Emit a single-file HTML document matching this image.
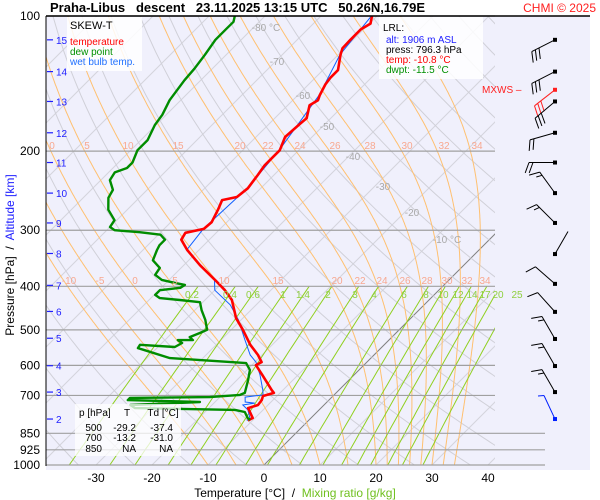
<!DOCTYPE html>
<html><head><meta charset="utf-8"><style>
html,body{margin:0;padding:0;background:#fff;}
svg{display:block;font-family:"Liberation Sans",sans-serif;}
</style></head><body>
<svg id="c" width="600" height="500" viewBox="0 0 600 500">
<defs><clipPath id="pc"><rect x="46" y="16" width="449" height="449"/></clipPath></defs>
<rect x="46" y="16" width="544" height="454" fill="#f0f0fc"/>
<g id="grid" clip-path="url(#pc)"></g>
<g id="isobars"></g>
<g id="series" clip-path="url(#pc)"></g>
<g id="barbs"></g>
<g id="labels"></g>
<line x1="46" y1="16" x2="590" y2="16" stroke="#000" stroke-width="1.5"/>
<line x1="46" y1="16" x2="46" y2="466" stroke="#000" stroke-width="1"/>
<text x="50" y="12" font-size="13" font-weight="bold" xml:space="preserve">Praha-Libus   descent   23.11.2025 13:15 UTC   50.26N,16.79E</text>
<text x="596" y="12" font-size="12" fill="#ff2020" text-anchor="end">CHMI © 2025</text>
<g>
<rect x="67" y="17" width="75" height="54" fill="#fff" opacity="0.85"/>
<text x="70" y="29" font-size="11">SKEW-T</text>
<text x="70" y="45" font-size="10" fill="#ff0000">temperature</text>
<text x="70" y="55" font-size="10" fill="#009000">dew point</text>
<text x="70" y="65" font-size="10" fill="#2070ff">wet bulb temp.</text>
</g>
<g>
<rect x="379" y="17" width="104" height="62" fill="#fff" opacity="0.85"/>
<text x="383" y="31" font-size="10">LRL:</text>
<text x="386" y="43" font-size="10" fill="#2020ff">alt: 1906 m ASL</text>
<text x="386" y="53" font-size="10">press: 796.3 hPa</text>
<text x="386" y="63" font-size="10" fill="#ff0000">temp: -10.8 °C</text>
<text x="386" y="73" font-size="10" fill="#009000">dwpt: -11.5 °C</text>
</g>
<text x="482" y="93" font-size="10" fill="#ff2020">MXWS –</text>
<g font-size="10">
<rect x="75" y="404" width="106" height="52" fill="#fff" opacity="0.75"/>
<text x="79" y="416">p [hPa]</text><text x="127" y="416" text-anchor="middle">T</text><text x="163" y="416" text-anchor="middle">Td [°C]</text>
<text x="102" y="431" text-anchor="end">500</text><text x="136" y="431" text-anchor="end">-29.2</text><text x="173" y="431" text-anchor="end">-37.4</text>
<text x="102" y="441" text-anchor="end">700</text><text x="136" y="441" text-anchor="end">-13.2</text><text x="173" y="441" text-anchor="end">-31.0</text>
<text x="102" y="452" text-anchor="end">850</text><text x="136" y="452" text-anchor="end">NA</text><text x="173" y="452" text-anchor="end">NA</text>
</g>
<text x="295" y="497" font-size="12" text-anchor="middle" xml:space="preserve"><tspan>Temperature [°C]  /  </tspan><tspan fill="#70c020">Mixing ratio [g/kg]</tspan></text>
<text transform="translate(14,255) rotate(-90)" font-size="12" text-anchor="middle" xml:space="preserve"><tspan>Pressure [hPa]  /  </tspan><tspan fill="#2020ff">Altitude [km]</tspan></text>
</svg>
<script>
var tempP=[100,104,107,113,118,122,132,137,142,150,154,158,169,174,186,199,215,226,242,253,257,270,288,298,304,315,332,359,387,408,429,471,500,540,569,590,599,630,681,691,702,717,735,747,786,796];
var tempT=[-60.9,-59.8,-60.5,-60.5,-60.4,-59.6,-57.3,-57.3,-57.0,-56.1,-55.5,-56.1,-54.3,-54.5,-54.8,-53.4,-53.4,-52.9,-52.3,-52.7,-54.8,-53.8,-52.7,-52.9,-55.5,-55.0,-52.1,-47.1,-41.8,-38.2,-35.2,-31.2,-27.9,-23.9,-20.7,-18.8,-19.3,-16.4,-12.0,-11.1,-12.5,-12.0,-11.8,-13.0,-10.4,-10.8];
var dewP=[100,103,107,113,122,131,139,154,166,175,189,199,212,218,223,232,244,254,270,285,295,300,303,307,315,324,332,350,364,377,387,393,397,403,408,418,425,429,434,452,475,500,508,519,527,527,535,546,540,549,555,578,593,614,647,691,698,706,709,717,724,735,747,754,762,786,794];
var dewT=[-85.4,-84.6,-84.6,-84.6,-83.8,-83.2,-82.9,-82.0,-80.7,-80.2,-78.8,-78.8,-77.5,-77.5,-78.9,-78.4,-76.1,-75.5,-73.4,-70.4,-70.0,-68.6,-63.8,-59.6,-57.9,-57.9,-57.5,-56.4,-53.8,-53.4,-51.3,-48.4,-46.3,-46.6,-49.8,-49.8,-48.4,-44.5,-40.5,-38.8,-36.4,-34.3,-35.0,-36.1,-35.0,-37.7,-36.4,-37.0,-43.6,-43.4,-41.8,-35.9,-21.4,-19.5,-18.0,-16.3,-16.8,-21.8,-35.9,-35.9,-22.7,-34.6,-33.2,-15.0,-12.9,-11.3,-10.5];
var wbP=[100,122,150,199,242,298,332,387,408,440,475,527,569,590,630,681,698,706,724,728,735,754,786,796];
var wbT=[-61.0,-59.7,-56.2,-53.5,-52.4,-53.0,-52.2,-41.9,-40.0,-34.6,-30.5,-25.7,-22.1,-19.8,-16.8,-13.6,-12.7,-15.5,-14.6,-12.7,-14.5,-12.7,-10.9,-11.0];
var pressTicks=[100,200,300,400,500,600,700,850,925,1000];
var tempTicks=[-30,-20,-10,0,10,20,30,40];
var altTicks=[15,14,13,12,11,10,9,8,7,6,5,4,3,2];
var altP=[113,133,155,182,212,248,289,338,398,455,522,601,688,790];
var mixRatios=[0.2,0.4,0.6,1,1.4,2,3,4,6,8,10,12,14,17,20,25];
var moistThetaW=[-10,-5,0,5,10,15,20,22,24,26,28,30,32,34];
var isoLabels=[-80,-70,-60,-50,-40,-30,-20,-10];
var barbP=[113,133,146,155,182,212,248,289,339,395,456,524,602,688,790];
var barbDir=[243,243,232,230,254,270,324,315,30,311,318,330,330,330,335];
var barbN=[3,3,3,3,2,2,1.5,1.5,0,1,1,1.5,1.5,1.5,0.5];

var NS="http://www.w3.org/2000/svg";
function yOf(p){return 465-449*Math.log(1000/p)/Math.log(10);}
function xOf(T,p){return 264+5.6*T+(465-yOf(p));}
function mk(tag,attrs,parent){var e=document.createElementNS(NS,tag);for(var k in attrs)e.setAttribute(k,attrs[k]);parent.appendChild(e);return e;}
function pathFrom(P,T){var d="";for(var i=0;i<P.length;i++){d+=(i?"L":"M")+xOf(T[i],P[i]).toFixed(1)+","+yOf(P[i]).toFixed(1);}return d;}
var grid=document.getElementById("grid"),ser=document.getElementById("series"),lab=document.getElementById("labels"),iso=document.getElementById("isobars"),bg=document.getElementById("barbs");

for(var ti=-160;ti<=50;ti+=10){
  var il=mk("line",{x1:xOf(ti,1000),y1:yOf(1000),x2:xOf(ti,100),y2:yOf(100),stroke:ti===0?"#808080":"#d4d4dc","stroke-width":1},grid);
  
  
}
for(var th=230;th<=480;th+=10){
  var dd="";for(var pp=1000;pp>=100;pp-=10){var TT=th*Math.pow(pp/1000,0.286)-273.15;dd+=(pp===1000?"M":"L")+xOf(TT,pp).toFixed(1)+","+yOf(pp).toFixed(1);}
  var de=mk("path",{d:dd,fill:"none",stroke:"#d0d0d8","stroke-width":1},grid);
  
  
}
function es(Tc){return 6.112*Math.exp(17.67*Tc/(Tc+243.5));}
moistThetaW.forEach(function(tw){
  var T=tw+273.15,d="",p=1000;
  d+="M"+xOf(tw,1000).toFixed(1)+","+yOf(1000).toFixed(1);
  while(p>100){var e1=es(T-273.15),rs=0.622*e1/(p-e1);
    var g=(287*T+2.5e6*rs)/(1005+2.5e6*2.5e6*rs*0.622/(287*T*T))/p;
    T-=g*2;p-=2;d+="L"+xOf(T-273.15,p).toFixed(1)+","+yOf(p).toFixed(1);}
  var e=mk("path",{d:d,fill:"none",stroke:"#ffc070","stroke-width":1},grid);
  
  
});
mixRatios.forEach(function(w){
  var d="";for(var p=1000;p>=400;p-=20){var e1=w*p/(622+w),L=Math.log(e1/6.112),T=243.5*L/(17.67-L);d+=(p===1000?"M":"L")+xOf(T,p).toFixed(1)+","+yOf(p).toFixed(1);}
  var e=mk("path",{d:d,fill:"none",stroke:"#90d020","stroke-width":1},grid);
  
  
});
pressTicks.forEach(function(p){
  var y=yOf(p);
  var l=mk("line",{x1:46,y1:y,x2:p>=850?545:495,y2:y,stroke:"#a0a0a0","stroke-width":1.2},iso);
  
  
  var t=mk("text",{x:40,y:y+4,"font-size":12,"text-anchor":"end"},lab);t.textContent=p;
  
  
});
tempTicks.forEach(function(v){
  var t=mk("text",{x:xOf(v,1000),y:482,"font-size":12,"text-anchor":"middle"},lab);t.textContent=v;
  
  
});
altTicks.forEach(function(a,i){
  var y=yOf(altP[i]);
  var l=mk("line",{x1:47,y1:y,x2:53,y2:y,stroke:"#2020ff","stroke-width":1.2},lab);
  
  
  var t=mk("text",{x:56,y:y+4,"font-size":10,fill:"#2020ff"},lab);t.textContent=a;
  
  
});
var isoLabX=[266,277,303,327,353,383,412,447],isoLabY=[31,65,99,130,160,190,216,243];
isoLabels.forEach(function(v,i){var t=mk("text",{x:isoLabX[i],y:isoLabY[i],"font-size":10,fill:"#a8a8a8","text-anchor":"middle"},lab);t.textContent=v+(i===0||i===7?" °C":"");
  
  });
var row1=["0","5","10","15","20","22","24","26","28","30","32","34"],row1x=[52,87,128,178,240,268,300,335,370,407,444,477];
row1.forEach(function(v,i){var t=mk("text",{x:row1x[i],y:149,"font-size":10,fill:"#f8a890","text-anchor":"middle"},lab);t.textContent=v;
  
  });
var row2=["-10","-5","0","5","10","15","20","22","24","26","28","30","32","34"],row2x=[69,100,135,175,224,278,337,360,382,405,427,447,467,485];
row2.forEach(function(v,i){var t=mk("text",{x:row2x[i],y:284,"font-size":10,fill:"#f8a890","text-anchor":"middle"},lab);t.textContent=v;
  
  });
var mixX=[192,230,253,283,303,328,355,374,404,426,443,458,472,485,498,517];
mixRatios.forEach(function(v,i){var t=mk("text",{x:mixX[i],y:298,"font-size":10,fill:"#90d040","text-anchor":"middle"},lab);t.textContent=v;
  
  });
var wb=mk("path",{d:pathFrom(wbP,wbT),fill:"none",stroke:"#1060ff","stroke-width":1},ser);


var tl=mk("path",{d:pathFrom(tempP,tempT),fill:"none",stroke:"#ff0000","stroke-width":2.6,"stroke-linejoin":"round"},ser);


var dl=mk("path",{d:pathFrom(dewP,dewT),fill:"none",stroke:"#008c00","stroke-width":2.4,"stroke-linejoin":"round"},ser);


barbP.forEach(function(p,i){
  var x0=555,y0=yOf(p),a=barbDir[i]*Math.PI/180,L=26;
  var sx=Math.sin(a),sy=-Math.cos(a);
  var col=i===2?"#ff2020":(i===barbP.length-1?"#0020ff":"#000");
  var d="M"+x0+","+y0+"L"+(x0+L*sx).toFixed(1)+","+(y0+L*sy).toFixed(1);
  var n=barbN[i],k=0;
  var fa=a-70*Math.PI/180,fx=Math.sin(fa),fy=-Math.cos(fa);
  while(n>0){var len=n>=1?11:6;var bx=x0+(L-k*4)*sx,by=y0+(L-k*4)*sy;
    d+="M"+bx.toFixed(1)+","+by.toFixed(1)+"L"+(bx+len*fx).toFixed(1)+","+(by+len*fy).toFixed(1);n-=1;k++;}
  var e=mk("path",{d:d,fill:"none",stroke:col,"stroke-width":1},bg);
  
  
  var r=mk("rect",{x:x0-2,y:y0-2,width:4,height:4,fill:col},bg);
  
  
});
</script>
</body></html>
